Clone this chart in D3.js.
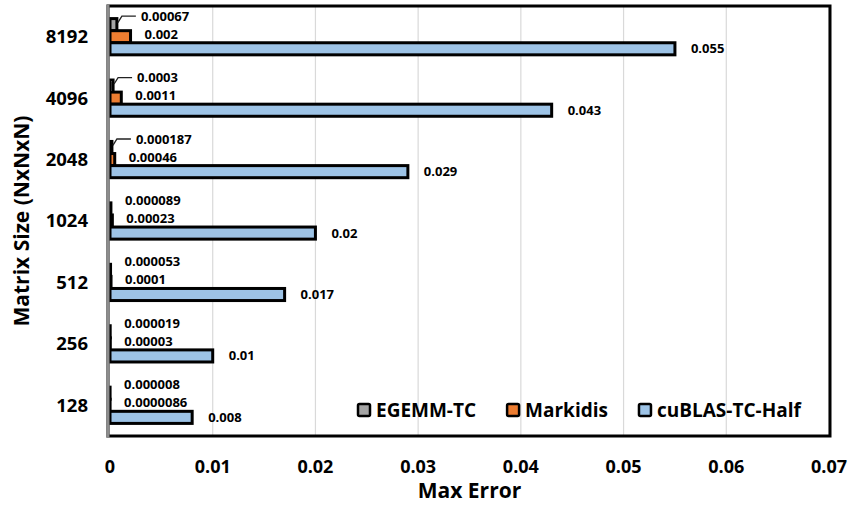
<!DOCTYPE html>
<html>
<head>
<meta charset="utf-8">
<script src="https://cdn.jsdelivr.net/npm/d3@7"></script>
<style>
  body { margin: 0; background: #fff; }
  svg { display: block; font-family: "Open Sans", Lato, sans-serif; font-weight: bold; }
</style>
</head>
<body>
<svg id="chart" width="850" height="506"></svg>
<script>
// matrix sizes, top to bottom as drawn
const sizes = ["8192", "4096", "2048", "1024", "512", "256", "128"];
const seriesNames = ["EGEMM-TC", "Markidis", "cuBLAS-TC-Half"];
const seriesColors = ["#a5a5a5", "#ed7d31", "#9dc3e6"];

const egemm = [0.00067, 0.0003, 0.000187, 0.000089, 0.000053, 0.000019, 0.000008];
const markidis = [0.002, 0.0011, 0.00046, 0.00023, 0.0001, 0.00003, 0.0000086];
const cublas = [0.055, 0.043, 0.029, 0.02, 0.017, 0.01, 0.008];

const egemmLabels = ["0.00067", "0.0003", "0.000187", "0.000089", "0.000053", "0.000019", "0.000008"];
const markidisLabels = ["0.002", "0.0011", "0.00046", "0.00023", "0.0001", "0.00003", "0.0000086"];
const cublasLabels = ["0.055", "0.043", "0.029", "0.02", "0.017", "0.01", "0.008"];

const xTicks = [0, 0.01, 0.02, 0.03, 0.04, 0.05, 0.06, 0.07];
// sizes whose EGEMM label was pulled out with a leader line
const leaderSizes = ["8192", "4096", "2048"];

const svg = d3.select("#chart");
const margin = { top: 6, right: 21, bottom: 70, left: 110 };
const width = 850, height = 506;

const x = d3.scaleLinear().domain([0, 0.07]).range([margin.left, width - margin.right]);
const y = d3.scaleBand().domain(sizes)
  .range([margin.top, height - margin.bottom])
  .paddingInner(0.41).paddingOuter(0.205);
const ySub = d3.scaleBand().domain(seriesNames).range([0, y.bandwidth()]);

const allValues = [egemm, markidis, cublas];
const allLabels = [egemmLabels, markidisLabels, cublasLabels];

// gridlines
svg.append("g")
  .selectAll("line")
  .data(xTicks.slice(1))
  .join("line")
  .attr("x1", d => x(d)).attr("x2", d => x(d))
  .attr("y1", margin.top).attr("y2", height - margin.bottom)
  .attr("stroke", "#d9d9d9")
  .attr("stroke-width", 1.2);

// bars
seriesNames.forEach((name, si) => {
  const rows = sizes.map((s, i) => ({ size: s, value: allValues[si][i] }));
  svg.append("g")
    .selectAll("rect")
    .data(rows)
    .join("rect")
    .attr("x", x(0))
    .attr("y", d => y(d.size) + ySub(name))
    .attr("width", d => x(d.value) - x(0))
    .attr("height", ySub.bandwidth())
    .attr("fill", seriesColors[si])
    .attr("stroke", "#000")
    .attr("stroke-width", 3);
});

// data labels
const labelDy = [-8.5, -2.5, 0];
seriesNames.forEach((name, si) => {
  const rows = sizes.map((s, i) => ({ size: s, value: allValues[si][i], label: allLabels[si][i] }));
  const g = svg.append("g");
  rows.forEach(d => {
    const cy = y(d.size) + ySub(name) + ySub.bandwidth() / 2;
    const hasLeader = si === 0 && leaderSizes.includes(d.size);
    const lx = x(d.value) + (si === 2 ? 16 : 14) + (hasLeader ? 10 : 0);
    const ly = cy + labelDy[si];
    g.append("text")
      .attr("x", lx)
      .attr("y", ly)
      .attr("dy", "0.35em")
      .attr("font-size", "13px")
      .attr("fill", "#000")
      .text(d.label);
    if (hasLeader) {
      const top = y(d.size) + ySub(name);
      g.append("path")
        .attr("d", `M${x(d.value) + 1},${top + 4} L${x(d.value) + 5},${ly} L${lx - 5},${ly}`)
        .attr("fill", "none")
        .attr("stroke", "#222")
        .attr("stroke-width", 1.3);
    }
  });
});

// plot frame
svg.append("rect")
  .attr("x", x(0) - 2)
  .attr("y", margin.top)
  .attr("width", x(0.07) - x(0) + 3)
  .attr("height", height - margin.bottom - margin.top)
  .attr("fill", "none")
  .attr("stroke", "#000")
  .attr("stroke-width", 3);

svg.append("line")
  .attr("x1", x(0) - 2).attr("x2", x(0) - 2)
  .attr("y1", margin.top - 1.5).attr("y2", height - margin.bottom + 2)
  .attr("stroke", "#8c8c8c")
  .attr("stroke-width", 3);

// x tick labels
svg.append("g")
  .selectAll("text")
  .data(xTicks)
  .join("text")
  .attr("x", d => x(d))
  .attr("y", 473)
  .attr("text-anchor", "middle")
  .attr("font-size", "18px")
  .text(d => d === 0 ? "0" : d3.format(".2f")(d));

// y tick labels
svg.append("g")
  .selectAll("text")
  .data(sizes)
  .join("text")
  .attr("x", 88)
  .attr("y", d => y(d) + y.bandwidth() / 2)
  .attr("dy", "0.35em")
  .attr("text-anchor", "end")
  .attr("font-size", "18.5px")
  .text(d => d);

// axis titles
svg.append("text")
  .attr("x", (x(0) + x(0.07)) / 2)
  .attr("y", 498)
  .attr("text-anchor", "middle")
  .attr("font-size", "21px")
  .text("Max Error");

svg.append("text")
  .attr("transform", "translate(29,221) rotate(-90)")
  .attr("text-anchor", "middle")
  .attr("font-size", "21px")
  .text("Matrix Size (NxNxN)");

// legend
const legend = svg.append("g").attr("transform", "translate(0,410)");
let cursor = 358;
seriesNames.forEach((name, si) => {
  legend.append("rect")
    .attr("x", cursor)
    .attr("y", -6)
    .attr("width", 12)
    .attr("height", 12)
    .attr("rx", 1.5)
    .attr("fill", seriesColors[si])
    .attr("stroke", "#000")
    .attr("stroke-width", 2.5);
  const t = legend.append("text")
    .attr("x", cursor + 18)
    .attr("dy", "0.35em")
    .attr("font-size", "19px")
    .text(name);
  cursor += 18 + t.node().getComputedTextLength() + 31;
});
</script>
</body>
</html>
